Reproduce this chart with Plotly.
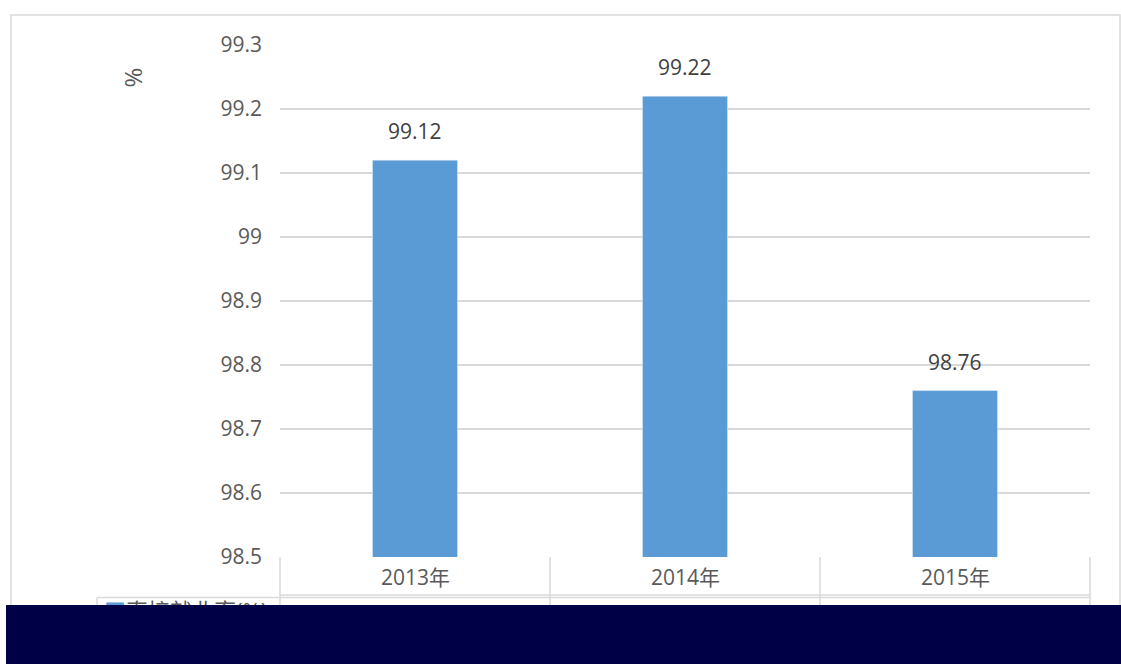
import plotly.graph_objects as go

categories = ["2013年", "2014年", "2015年"]
values = [99.12, 99.22, 98.76]
value_labels = ["99.12", "99.22", "98.76"]
series_name = "直接就业率(%)"
y_ticks = [98.5, 98.6, 98.7, 98.8, 98.9, 99.0, 99.1, 99.2, 99.3]
y_tick_text = ["98.5", "98.6", "98.7", "98.8", "98.9", "99", "99.1", "99.2", "99.3"]

W, H = 1121, 664
L, R, T, B = 280, 1090, 45, 557
pw, ph = R - L, B - T

def px(x):
    return (x - L) / pw

def py(y):
    return (B - y) / ph

FONT = "Open Sans, Noto Sans CJK SC, sans-serif"
GRID = "#d9d9d9"
TXT = "#595959"
FS = 21

fig = go.Figure()
fig.add_trace(go.Bar(x=categories, y=values, marker_color="#5b9bd5",
                     width=0.315, name=series_name, showlegend=False,
                     hoverinfo="skip"))

annotations = []
for c, v, t in zip(categories, values, value_labels):
    annotations.append(dict(x=c, y=v, xref="x", yref="y", text=t, showarrow=False,
                            yanchor="middle", yshift=29,
                            font=dict(family=FONT, size=FS, color="#404040")))
for c in categories:
    annotations.append(dict(x=c, y=py(577), xref="x", yref="paper", text=c, showarrow=False,
                            yanchor="middle", font=dict(family=FONT, size=FS, color=TXT)))
annotations.append(dict(x=px(113), y=py(66), xref="paper", yref="paper", text="%",
                        showarrow=False, textangle=-90,
                        font=dict(family=FONT, size=24, color=TXT)))
annotations.append(dict(x=px(102), y=py(610), xref="paper", yref="paper",
                        text="<span style='color:#5b9bd5'>■</span>" + series_name,
                        showarrow=False, xanchor="left", yanchor="middle",
                        font=dict(family=FONT, size=22, color=TXT)))
# dark overlay band at the bottom
annotations.append(dict(x=px(6), y=py(605), xref="paper", yref="paper", text=" ",
                        showarrow=False, xanchor="left", yanchor="top",
                        width=W - 6, height=H - 605, bgcolor="#000046",
                        borderpad=0, borderwidth=0))

shapes = []
lc = dict(color=GRID, width=1.5)
# outer border
shapes.append(dict(type="rect", xref="paper", yref="paper", x0=px(11), x1=px(1120),
                   y0=py(700), y1=py(15), line=lc, layer="below"))
# data table lines
shapes.append(dict(type="line", xref="paper", yref="paper", x0=px(280), x1=px(1090),
                   y0=py(595), y1=py(595), line=lc))
shapes.append(dict(type="line", xref="paper", yref="paper", x0=px(97), x1=px(1090),
                   y0=py(597.5), y1=py(597.5), line=lc))
for xv in [280, 550, 820, 1090]:
    shapes.append(dict(type="line", xref="paper", yref="paper", x0=px(xv), x1=px(xv),
                       y0=py(557), y1=py(640), line=lc))
shapes.append(dict(type="line", xref="paper", yref="paper", x0=px(97), x1=px(97),
                   y0=py(597.5), y1=py(640), line=lc))

fig.update_layout(
    width=W, height=H,
    margin=dict(l=L, r=W - R, t=T, b=H - B, pad=0),
    paper_bgcolor="white", plot_bgcolor="white",
    font=dict(family=FONT, color=TXT),
    annotations=annotations, shapes=shapes,
    hovermode=False,
)
fig.update_xaxes(showticklabels=False, showgrid=False, zeroline=False,
                 showline=False, fixedrange=True)
fig.update_yaxes(range=[98.5, 99.3], tickvals=y_ticks, ticktext=y_tick_text,
                 showgrid=True, gridcolor=GRID, gridwidth=1.5, zeroline=False,
                 showline=False, tickfont=dict(family=FONT, size=FS, color=TXT),
                 ticklabelstandoff=17, fixedrange=True)

fig.write_html("out.html", config={"displayModeBar": False},
               post_script="document.body.style.margin='0';document.body.style.overflow='hidden';")
